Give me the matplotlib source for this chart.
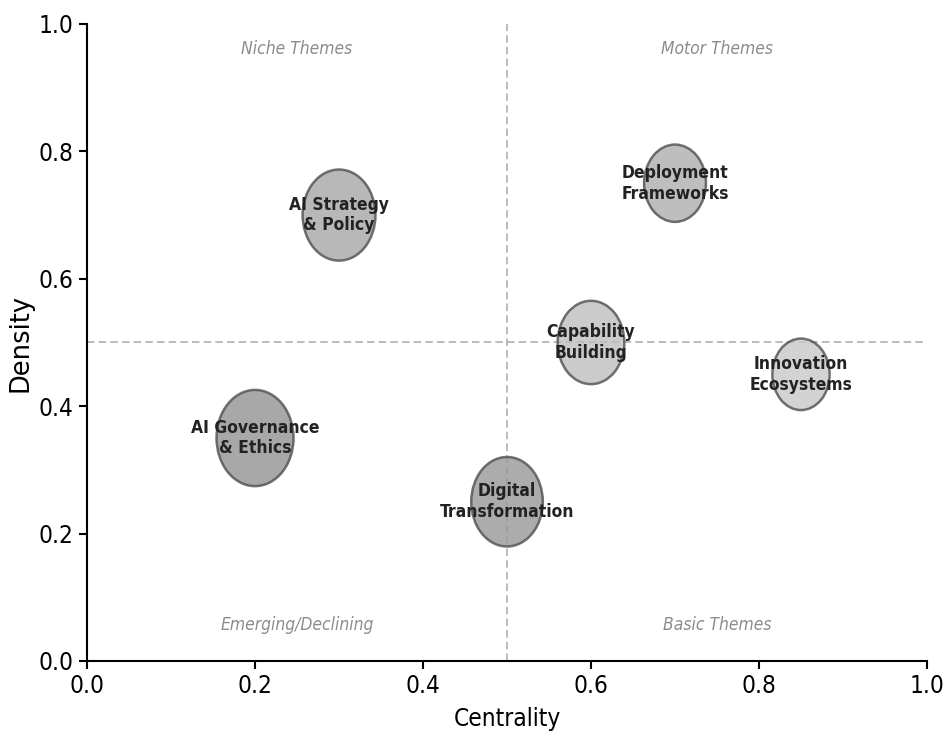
import matplotlib
matplotlib.use("Agg")
import matplotlib.pyplot as plt
from matplotlib.path import Path
from matplotlib.transforms import Affine2D

# ----------------------------------- DATA ----------------------------------- #

themes = ["AI Strategy\n& Policy", "Deployment\nFrameworks", "Capability\nBuilding",
          "Innovation\nEcosystems", "AI Governance\n& Ethics", "Digital\nTransformation"]
centrality = [0.30, 0.70, 0.60, 0.85, 0.20, 0.50]
density = [0.70, 0.75, 0.50, 0.45, 0.35, 0.25]
bubble_size = [4300, 3100, 3600, 2650, 4800, 4150]

quadrants = ["Niche Themes", "Motor Themes", "Emerging/Declining", "Basic Themes"]
quad_x = [0.25, 0.75, 0.25, 0.75]
quad_y = [0.96, 0.96, 0.057, 0.057]

ticks = [0.0, 0.2, 0.4, 0.6, 0.8, 1.0]

# ---------------------------------- STYLE ----------------------------------- #

fills = ["#a6a6a6", "#aeaeae", "#bebebe", "#c8c8c8", "#939393", "#989898"]
plt.rcParams["font.family"] = ["DejaVu Sans"]
plt.rcParams["font.stretch"] = "condensed"

# slightly narrow bubbles, like the reference
oval = Affine2D().scale(0.8, 1.0).transform_path(Path.unit_circle())

# ---------------------------------- FIGURE ---------------------------------- #

fig = plt.figure(figsize=(9.44, 7.42), dpi=100)
ax = fig.add_axes([0.0922, 0.1092, 0.8898, 0.8585])

ax.axvline(0.5, color="#b0b0b0", ls=(0, (4.5, 2.5)), lw=1.2, zorder=1)
ax.axhline(0.5, color="#b0b0b0", ls=(0, (4.5, 2.5)), lw=1.2, zorder=1)

ax.scatter(centrality, density, s=bubble_size, c=fills, marker=oval, alpha=0.8,
           edgecolors="#4f4f4f", linewidths=1.8, zorder=2)

for name, x, y in zip(themes, centrality, density):
    ax.text(x, y, name, ha="center", va="center", fontsize=12.5,
            fontweight="bold", color="#222222", zorder=3)

for q, x, y in zip(quadrants, quad_x, quad_y):
    ax.text(x, y, q, ha="center", va="center", fontsize=12.5,
            style="italic", color="#8c8c8c")

ax.set_xlim(0, 1)
ax.set_ylim(0, 1)
ax.set_xticks(ticks)
ax.set_yticks(ticks)
ax.tick_params(labelsize=17.5, width=1.5, length=6)
ax.set_xlabel("Centrality", fontsize=17.5, labelpad=6)
ax.set_ylabel("Density", fontsize=18.5, fontstretch="normal", labelpad=4)

ax.spines["top"].set_visible(False)
ax.spines["right"].set_visible(False)
ax.spines["left"].set_linewidth(1.5)
ax.spines["bottom"].set_linewidth(1.5)

fig.savefig("out.png", dpi=100)
